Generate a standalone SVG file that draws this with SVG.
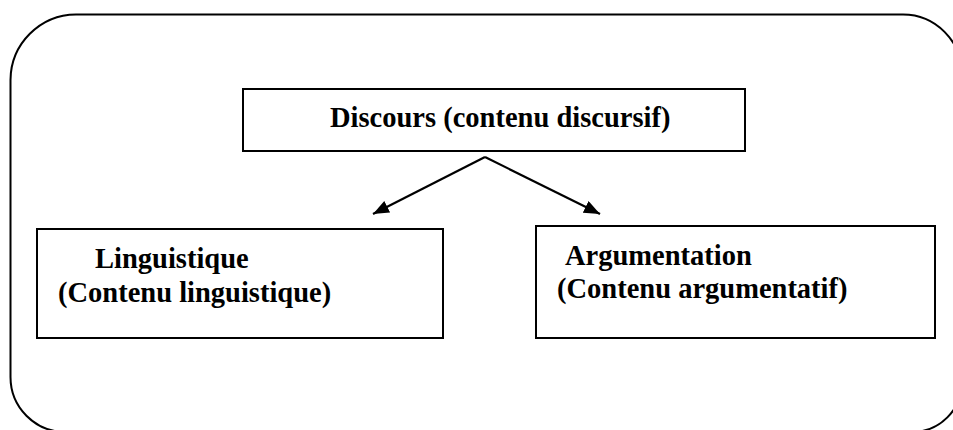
<svg xmlns="http://www.w3.org/2000/svg" width="953" height="430" viewBox="0 0 953 430">
<style>
.box{fill:#fff;stroke:#000;stroke-width:2}
.t{font-family:"Liberation Serif","Times New Roman",serif;font-weight:bold;font-size:28.5px;fill:#000}
.c{stroke:#000;stroke-width:2.2;fill:none}
</style>
<defs>
<marker id="ah" markerUnits="userSpaceOnUse" markerWidth="18" markerHeight="14" refX="16" refY="6.5" orient="auto">
<path d="M0,0 L16,6.5 L0,13 Z" fill="#000"/>
</marker>
</defs>
<rect width="953" height="430" fill="#fff"/>
<g id="frame">
<path d="M76,14.5 H903 A59 60 0 0 1 962 74 V382 A50 50 0 0 1 912 432 H65 A55 55 0 0 1 10.5 377 V80 A66 66 0 0 1 76 14.5 Z" fill="none" stroke="#000" stroke-width="2"/>
</g>
<g id="discours">
<rect class="box" x="243" y="89" width="502" height="62"/>
<text class="t" x="330" y="127">Discours (contenu discursif)</text>
</g>
<g id="linguistique">
<rect class="box" x="37" y="229" width="406" height="109"/>
<text class="t" x="95" y="268">Linguistique</text>
<text class="t" x="58" y="302">(Contenu linguistique)</text>
</g>
<g id="argumentation">
<rect class="box" x="536" y="226" width="399" height="112"/>
<text class="t" x="565" y="265">Argumentation</text>
<text class="t" x="557" y="298">(Contenu argumentatif)</text>
</g>
<g id="connectors">
<path class="c" d="M485,157 L373,214" marker-end="url(#ah)"/>
<path class="c" d="M485,157 L600,214" marker-end="url(#ah)"/>
</g>
</svg>
